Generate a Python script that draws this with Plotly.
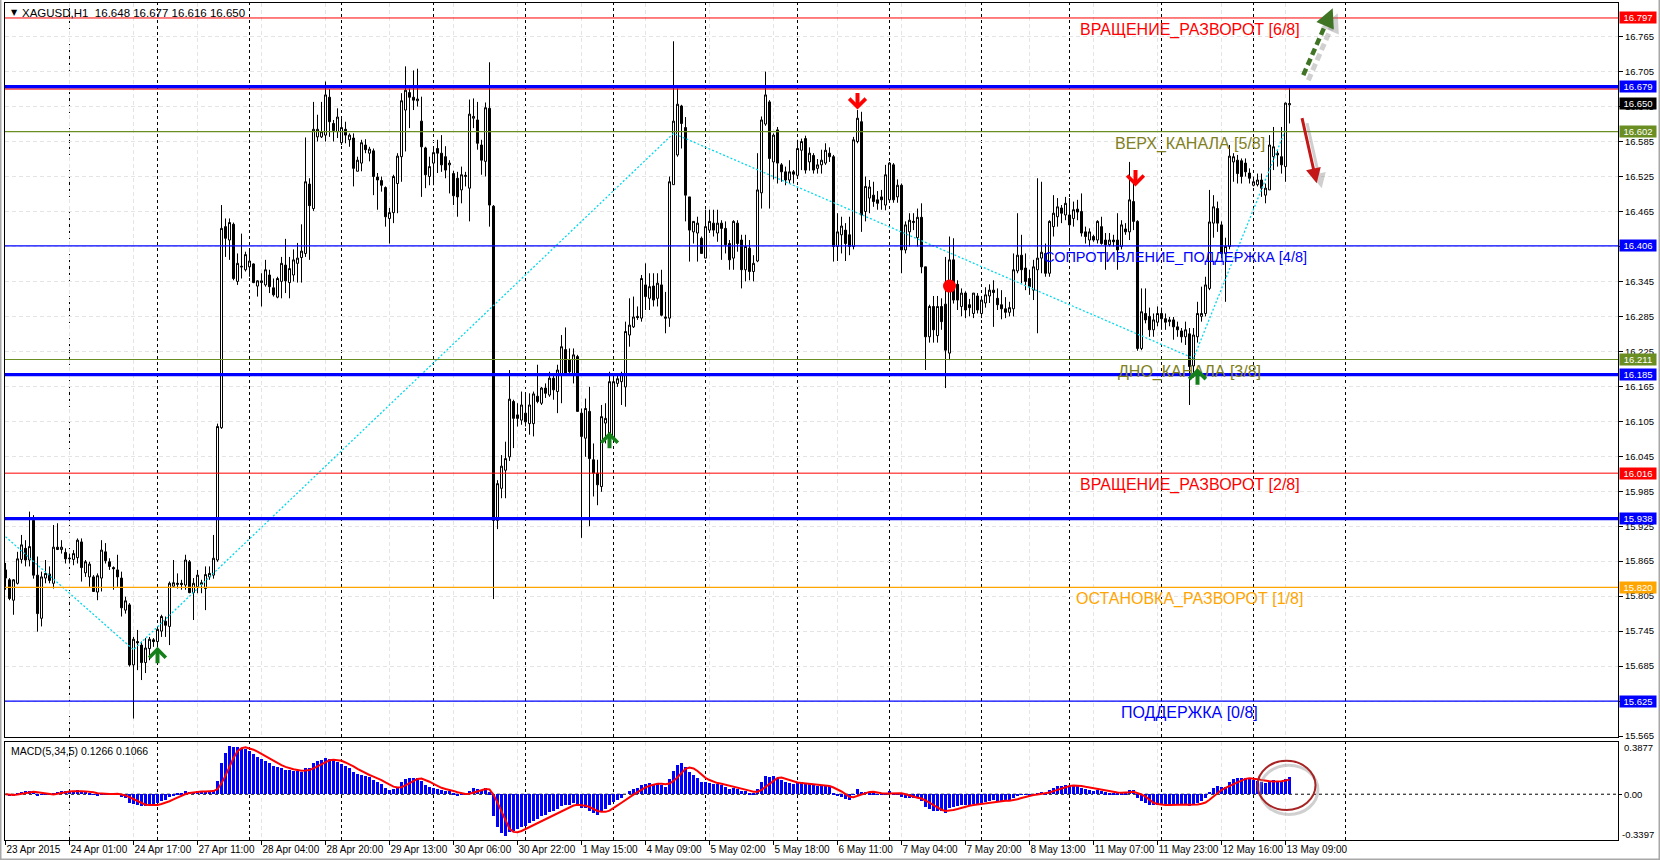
import plotly.graph_objects as go
import pandas as pd

# ---------------- DATA ----------------
opens = [
    15.850, 15.833, 15.798, 15.827, 15.868, 15.887, 15.867, 15.935, 15.841, 15.767,
    15.836, 15.843, 15.827, 15.889, 15.885, 15.880, 15.869, 15.868, 15.871, 15.898,
    15.845, 15.838, 15.838, 15.812, 15.836, 15.881, 15.864, 15.854, 15.850, 15.836,
    15.781, 15.790, 15.687, 15.727, 15.721, 15.691, 15.715, 15.730, 15.727, 15.745,
    15.762, 15.753, 15.822, 15.825, 15.827, 15.824, 15.864, 15.811, 15.821, 15.825,
    15.818, 15.838, 15.841, 15.867, 16.094, 16.439, 16.416, 16.443, 16.345, 16.371,
    16.365, 16.370, 16.375, 16.337, 16.343, 16.339, 16.356, 16.334, 16.318, 16.345,
    16.373, 16.343, 16.356, 16.376, 16.386, 16.393, 16.512, 16.470, 16.593, 16.593,
    16.596, 16.661, 16.616, 16.602, 16.583, 16.606, 16.588, 16.591, 16.534, 16.548,
    16.579, 16.565, 16.569, 16.524, 16.518, 16.506, 16.453, 16.463, 16.513, 16.559,
    16.639, 16.669, 16.661, 16.655, 16.620, 16.574, 16.525, 16.548, 16.573, 16.565,
    16.559, 16.545, 16.530, 16.522, 16.502, 16.525, 16.505, 16.625, 16.622, 16.579,
    16.551, 16.642, 16.474, 15.935, 15.990, 16.021, 16.044, 16.139, 16.116, 16.107,
    16.119, 16.101, 16.101, 16.148, 16.136, 16.162, 16.150, 16.179, 16.156, 16.187,
    16.228, 16.211, 16.187, 16.216, 16.119, 16.076, 16.122, 16.039, 16.016, 15.993,
    16.102, 16.073, 16.076, 16.170, 16.173, 16.164, 16.253, 16.267, 16.285, 16.282,
    16.339, 16.316, 16.337, 16.316, 16.339, 16.284, 16.282, 16.511, 16.562, 16.646,
    16.609, 16.490, 16.430, 16.428, 16.419, 16.385, 16.433, 16.445, 16.428, 16.445,
    16.436, 16.410, 16.385, 16.445, 16.416, 16.365, 16.402, 16.362, 16.380, 16.497,
    16.615, 16.653, 16.550, 16.605, 16.545, 16.533, 16.519, 16.533, 16.527, 16.570,
    16.590, 16.550, 16.561, 16.539, 16.545, 16.548, 16.565, 16.559, 16.405, 16.425,
    16.433, 16.425, 16.405, 16.585, 16.619, 16.465, 16.488, 16.493, 16.485, 16.490,
    16.476, 16.485, 16.545, 16.490, 16.510, 16.399, 16.430, 16.446, 16.420, 16.455,
    16.370, 16.250, 16.302, 16.252, 16.302, 16.306, 16.222, 16.382, 16.340, 16.302,
    16.325, 16.305, 16.290, 16.320, 16.290, 16.308, 16.320, 16.330, 16.316, 16.305,
    16.298, 16.292, 16.298, 16.363, 16.390, 16.368, 16.350, 16.330, 16.365, 16.385,
    16.393, 16.359, 16.439, 16.456, 16.471, 16.459, 16.459, 16.453, 16.469, 16.465,
    16.430, 16.416, 16.422, 16.416, 16.439, 16.416, 16.408, 16.416, 16.416, 16.405,
    16.435, 16.430, 16.482, 16.448, 16.230, 16.290, 16.285, 16.262, 16.275, 16.290,
    16.281, 16.276, 16.279, 16.267, 16.260, 16.250, 16.255, 16.200, 16.250, 16.285,
    16.290, 16.333, 16.445, 16.470, 16.442, 16.393, 16.405, 16.550, 16.553, 16.552,
    16.548, 16.531, 16.510, 16.511, 16.519, 16.493, 16.502, 16.559, 16.565, 16.559,
    16.542, 16.648,
]
highs = [
    15.862, 15.836, 15.834, 15.881, 15.910, 15.901, 15.950, 15.944, 15.873, 15.847,
    15.867, 15.856, 15.927, 15.930, 15.901, 15.887, 15.878, 15.884, 15.904, 15.904,
    15.867, 15.864, 15.841, 15.844, 15.901, 15.896, 15.870, 15.856, 15.876, 15.847,
    15.804, 15.793, 15.735, 15.747, 15.727, 15.733, 15.735, 15.733, 15.753, 15.773,
    15.770, 15.830, 15.867, 15.844, 15.833, 15.876, 15.867, 15.836, 15.850, 15.833,
    15.856, 15.856, 15.910, 16.101, 16.476, 16.453, 16.453, 16.446, 16.393, 16.427,
    16.396, 16.399, 16.376, 16.347, 16.359, 16.382, 16.365, 16.350, 16.353, 16.387,
    16.418, 16.387, 16.400, 16.411, 16.443, 16.592, 16.522, 16.653, 16.631, 16.653,
    16.688, 16.675, 16.622, 16.642, 16.625, 16.619, 16.599, 16.599, 16.559, 16.588,
    16.589, 16.576, 16.573, 16.531, 16.525, 16.508, 16.471, 16.528, 16.565, 16.668,
    16.714, 16.676, 16.707, 16.710, 16.662, 16.576, 16.559, 16.576, 16.588, 16.596,
    16.577, 16.553, 16.535, 16.533, 16.542, 16.533, 16.657, 16.659, 16.653, 16.588,
    16.652, 16.721, 16.476, 16.004, 16.047, 16.070, 16.193, 16.142, 16.136, 16.156,
    16.150, 16.153, 16.156, 16.202, 16.164, 16.170, 16.190, 16.187, 16.202, 16.253,
    16.266, 16.230, 16.230, 16.219, 16.127, 16.144, 16.164, 16.067, 16.039, 16.133,
    16.136, 16.190, 16.187, 16.184, 16.190, 16.276, 16.316, 16.319, 16.302, 16.356,
    16.376, 16.359, 16.359, 16.359, 16.365, 16.327, 16.525, 16.757, 16.676, 16.648,
    16.627, 16.490, 16.448, 16.456, 16.422, 16.468, 16.468, 16.468, 16.468, 16.450,
    16.448, 16.416, 16.450, 16.450, 16.425, 16.425, 16.416, 16.390, 16.565, 16.628,
    16.705, 16.656, 16.599, 16.610, 16.548, 16.542, 16.553, 16.536, 16.588, 16.590,
    16.595, 16.575, 16.565, 16.555, 16.571, 16.582, 16.575, 16.562, 16.462, 16.456,
    16.445, 16.456, 16.593, 16.639, 16.636, 16.525, 16.519, 16.516, 16.500, 16.502,
    16.545, 16.550, 16.548, 16.520, 16.513, 16.448, 16.462, 16.462, 16.470, 16.479,
    16.370, 16.305, 16.320, 16.320, 16.316, 16.387, 16.422, 16.419, 16.347, 16.333,
    16.328, 16.315, 16.325, 16.325, 16.320, 16.335, 16.340, 16.347, 16.333, 16.330,
    16.318, 16.310, 16.393, 16.462, 16.425, 16.393, 16.365, 16.382, 16.522, 16.516,
    16.410, 16.450, 16.493, 16.488, 16.476, 16.490, 16.488, 16.482, 16.485, 16.496,
    16.439, 16.436, 16.425, 16.450, 16.456, 16.428, 16.428, 16.425, 16.462, 16.450,
    16.445, 16.550, 16.513, 16.450, 16.333, 16.333, 16.300, 16.290, 16.302, 16.300,
    16.290, 16.284, 16.284, 16.276, 16.265, 16.276, 16.265, 16.265, 16.310, 16.336,
    16.353, 16.502, 16.493, 16.482, 16.448, 16.420, 16.579, 16.565, 16.562, 16.556,
    16.556, 16.539, 16.525, 16.530, 16.530, 16.513, 16.596, 16.610, 16.570, 16.610,
    16.652, 16.677,
]
lows = [
    15.816, 15.798, 15.773, 15.825, 15.861, 15.856, 15.856, 15.835, 15.744, 15.753,
    15.827, 15.827, 15.818, 15.884, 15.878, 15.861, 15.861, 15.858, 15.861, 15.830,
    15.838, 15.821, 15.813, 15.798, 15.813, 15.861, 15.850, 15.816, 15.821, 15.770,
    15.775, 15.684, 15.595, 15.678, 15.661, 15.673, 15.695, 15.718, 15.690, 15.735,
    15.735, 15.721, 15.821, 15.818, 15.816, 15.816, 15.810, 15.764, 15.810, 15.810,
    15.781, 15.833, 15.835, 15.864, 16.092, 16.387, 16.382, 16.347, 16.339, 16.350,
    16.362, 16.353, 16.342, 16.319, 16.302, 16.336, 16.325, 16.319, 16.316, 16.316,
    16.325, 16.316, 16.345, 16.343, 16.343, 16.387, 16.382, 16.466, 16.585, 16.591,
    16.585, 16.593, 16.585, 16.591, 16.579, 16.582, 16.576, 16.508, 16.534, 16.534,
    16.565, 16.551, 16.493, 16.468, 16.499, 16.439, 16.410, 16.445, 16.462, 16.516,
    16.568, 16.608, 16.639, 16.645, 16.490, 16.505, 16.510, 16.510, 16.531, 16.533,
    16.522, 16.496, 16.476, 16.456, 16.479, 16.508, 16.448, 16.608, 16.571, 16.528,
    16.525, 16.439, 15.800, 15.920, 15.973, 15.973, 16.037, 16.059, 16.096, 16.099,
    16.096, 16.082, 16.079, 16.136, 16.133, 16.145, 16.147, 16.142, 16.119, 16.136,
    16.184, 16.187, 16.170, 16.122, 15.905, 16.044, 15.925, 15.976, 15.961, 15.984,
    16.067, 16.073, 16.073, 16.164, 16.133, 16.130, 16.233, 16.265, 16.279, 16.276,
    16.296, 16.296, 16.302, 16.302, 16.285, 16.256, 16.267, 16.511, 16.559, 16.573,
    16.448, 16.379, 16.410, 16.379, 16.393, 16.385, 16.428, 16.422, 16.413, 16.382,
    16.393, 16.365, 16.365, 16.396, 16.333, 16.345, 16.347, 16.345, 16.378, 16.470,
    16.612, 16.470, 16.520, 16.513, 16.516, 16.510, 16.513, 16.513, 16.524, 16.536,
    16.530, 16.535, 16.530, 16.530, 16.530, 16.545, 16.550, 16.379, 16.380, 16.393,
    16.380, 16.390, 16.400, 16.582, 16.430, 16.448, 16.462, 16.473, 16.468, 16.468,
    16.467, 16.482, 16.480, 16.480, 16.359, 16.393, 16.405, 16.433, 16.405, 16.359,
    16.193, 16.240, 16.240, 16.240, 16.262, 16.162, 16.210, 16.307, 16.296, 16.285,
    16.282, 16.285, 16.282, 16.290, 16.282, 16.300, 16.308, 16.267, 16.296, 16.280,
    16.282, 16.285, 16.285, 16.359, 16.342, 16.330, 16.322, 16.313, 16.256, 16.359,
    16.353, 16.353, 16.422, 16.439, 16.445, 16.450, 16.410, 16.439, 16.450, 16.422,
    16.410, 16.405, 16.413, 16.410, 16.408, 16.365, 16.405, 16.405, 16.365, 16.400,
    16.425, 16.416, 16.433, 16.226, 16.227, 16.273, 16.250, 16.250, 16.268, 16.262,
    16.262, 16.268, 16.245, 16.250, 16.240, 16.236, 16.133, 16.180, 16.240, 16.276,
    16.285, 16.330, 16.420, 16.430, 16.385, 16.310, 16.400, 16.516, 16.513, 16.513,
    16.525, 16.513, 16.508, 16.508, 16.490, 16.479, 16.502, 16.536, 16.542, 16.530,
    16.516, 16.616,
]
closes = [
    15.836, 15.801, 15.833, 15.869, 15.893, 15.867, 15.890, 15.841, 15.775, 15.838,
    15.844, 15.832, 15.889, 15.885, 15.889, 15.869, 15.870, 15.878, 15.901, 15.854,
    15.864, 15.860, 15.813, 15.840, 15.884, 15.866, 15.856, 15.852, 15.838, 15.785,
    15.797, 15.687, 15.731, 15.725, 15.691, 15.716, 15.731, 15.727, 15.748, 15.770,
    15.755, 15.827, 15.828, 15.827, 15.825, 15.867, 15.811, 15.827, 15.841, 15.828,
    15.842, 15.844, 15.870, 16.096, 16.436, 16.419, 16.446, 16.350, 16.376, 16.370,
    16.391, 16.380, 16.343, 16.346, 16.346, 16.365, 16.336, 16.322, 16.350, 16.376,
    16.346, 16.367, 16.382, 16.385, 16.397, 16.516, 16.475, 16.606, 16.606, 16.602,
    16.665, 16.619, 16.604, 16.627, 16.609, 16.596, 16.596, 16.539, 16.553, 16.583,
    16.571, 16.572, 16.525, 16.519, 16.510, 16.456, 16.463, 16.525, 16.560, 16.655,
    16.673, 16.661, 16.656, 16.658, 16.576, 16.528, 16.542, 16.566, 16.565, 16.545,
    16.536, 16.548, 16.492, 16.490, 16.528, 16.527, 16.632, 16.628, 16.582, 16.553,
    16.643, 16.476, 15.935, 15.998, 16.028, 16.041, 16.143, 16.110, 16.110, 16.133,
    16.104, 16.133, 16.152, 16.139, 16.162, 16.153, 16.179, 16.159, 16.193, 16.233,
    16.187, 16.190, 16.219, 16.122, 16.079, 16.127, 16.041, 16.016, 15.996, 16.113,
    16.110, 16.173, 16.173, 16.178, 16.187, 16.259, 16.270, 16.284, 16.283, 16.350,
    16.319, 16.336, 16.313, 16.342, 16.287, 16.282, 16.516, 16.620, 16.649, 16.616,
    16.493, 16.433, 16.448, 16.445, 16.393, 16.439, 16.448, 16.433, 16.445, 16.436,
    16.408, 16.382, 16.448, 16.410, 16.365, 16.405, 16.362, 16.376, 16.502, 16.622,
    16.665, 16.556, 16.596, 16.548, 16.533, 16.519, 16.533, 16.529, 16.573, 16.585,
    16.536, 16.565, 16.536, 16.545, 16.553, 16.570, 16.559, 16.405, 16.430, 16.440,
    16.410, 16.405, 16.588, 16.625, 16.459, 16.508, 16.507, 16.482, 16.479, 16.485,
    16.528, 16.548, 16.485, 16.510, 16.399, 16.442, 16.450, 16.448, 16.455, 16.370,
    16.250, 16.302, 16.262, 16.302, 16.276, 16.227, 16.382, 16.313, 16.313, 16.325,
    16.296, 16.300, 16.325, 16.296, 16.313, 16.322, 16.330, 16.326, 16.305, 16.298,
    16.292, 16.300, 16.365, 16.390, 16.365, 16.345, 16.336, 16.370, 16.385, 16.395,
    16.359, 16.448, 16.462, 16.473, 16.462, 16.479, 16.442, 16.468, 16.464, 16.428,
    16.422, 16.430, 16.416, 16.448, 16.410, 16.408, 16.416, 16.413, 16.399, 16.442,
    16.430, 16.485, 16.448, 16.230, 16.293, 16.279, 16.262, 16.279, 16.290, 16.281,
    16.275, 16.279, 16.267, 16.262, 16.250, 16.262, 16.199, 16.253, 16.290, 16.290,
    16.339, 16.447, 16.473, 16.445, 16.393, 16.405, 16.560, 16.559, 16.530, 16.525,
    16.533, 16.522, 16.516, 16.519, 16.505, 16.505, 16.579, 16.576, 16.562, 16.545,
    16.651, 16.650,
]

tick_bars = [0, 16, 32, 48, 64, 80, 96, 112, 128, 144, 160, 176, 192, 208, 224,
             240, 256, 272, 288, 304, 320]
tick_labels = ["23 Apr 2015", "24 Apr 01:00", "24 Apr 17:00", "27 Apr 11:00",
               "28 Apr 04:00", "28 Apr 20:00", "29 Apr 13:00", "30 Apr 06:00",
               "30 Apr 22:00", "1 May 15:00", "4 May 09:00", "5 May 02:00",
               "5 May 18:00", "6 May 11:00", "7 May 04:00", "7 May 20:00",
               "8 May 13:00", "11 May 07:00", "11 May 23:00", "12 May 16:00",
               "13 May 09:00"]
day_separator_bars = [16, 38, 61, 84, 107, 130, 152, 175, 198, 221, 244, 266, 289, 312, 335]
price_ticks = [15.565, 15.625, 15.685, 15.745, 15.805, 15.865, 15.925, 15.985,
               16.045, 16.105, 16.165, 16.225, 16.285, 16.345, 16.405, 16.465,
               16.525, 16.585, 16.645, 16.705, 16.765]

level_prices = [16.797, 16.679, 16.675, 16.602, 16.406, 16.211, 16.185, 16.016, 15.938, 15.820, 15.625]
level_names = ["ВРАЩЕНИЕ_РАЗВОРОТ [6/8]", "ВЕРХ_КАНАЛА [5/8]", "СОПРОТИВЛЕНИЕ_ПОДДЕРЖКА [4/8]",
               "ДНО_КАНАЛА [3/8]", "ВРАЩЕНИЕ_РАЗВОРОТ [2/8]", "ОСТАНОВКА_РАЗВОРОТ [1/8]",
               "ПОДДЕРЖКА [0/8]"]
level_name_prices = [16.797, 16.602, 16.406, 16.211, 16.016, 15.820, 15.625]
box_prices = [16.797, 16.679, 16.650, 16.602, 16.406, 16.211, 16.185, 16.016, 15.938, 15.820, 15.625]

zigzag_bars = [0, 32, 167, 297, 320]
zigzag_prices = [15.907, 15.713, 16.599, 16.213, 16.605]

up_arrow_bars = [38, 151, 298]
up_arrow_prices = [15.718, 16.087, 16.196]
down_arrow_bars = [213, 282.5]
down_arrow_prices = [16.640, 16.508]
dot_bars = [236]
dot_prices = [16.337]

macd_header = "MACD(5,34,5) 0.1266 0.1066"
macd_max, macd_min = 0.3877, -0.3397

# ---------------- styles ----------------
RED, BLUE, OLIVE, ORANGE = "#FF0000", "#0000FF", "#6B8E23", "#FFA500"
level_colors = [RED, BLUE, RED, OLIVE, BLUE, OLIVE, BLUE, RED, BLUE, ORANGE, BLUE]
level_widths = [1, 3.4, 1, 1.2, 1.2, 1.2, 3.4, 1, 3.4, 1.2, 1.2]
name_colors = [RED, "#808020", BLUE, "#808020", RED, ORANGE, BLUE]
name_sizes = [16, 16, 14.5, 16, 16, 16, 16]
box_colors = [RED, BLUE, "#000000", OLIVE, BLUE, OLIVE, BLUE, RED, BLUE, ORANGE, BLUE]
FONT = "Liberation Sans, Arial, sans-serif"
TXT = 9.5
LBL = 10

bars = list(range(len(closes)))
cs = pd.Series(closes)
macd_main = cs.ewm(span=5, adjust=False).mean() - cs.ewm(span=34, adjust=False).mean()
macd_signal = macd_main.rolling(5, min_periods=1).mean()

XR = [-0.125, 403.125]
YR = [15.5633, 16.8227]

fig = go.Figure()

fig.add_trace(go.Scatter(x=zigzag_bars, y=zigzag_prices, mode="lines",
                         line=dict(color="#00D8EC", width=1.3, dash="2px,2px"),
                         hoverinfo="skip", showlegend=False, xaxis="x", yaxis="y"))
fig.add_trace(go.Candlestick(
    x=bars, open=opens, high=highs, low=lows, close=closes,
    increasing=dict(line=dict(color="black", width=1), fillcolor="white"),
    decreasing=dict(line=dict(color="black", width=1), fillcolor="black"),
    whiskerwidth=0, showlegend=False, hoverinfo="skip", xaxis="x", yaxis="y"))
fig.add_trace(go.Scatter(x=dot_bars, y=dot_prices, mode="markers",
                         marker=dict(color="#FF0000", size=13), showlegend=False,
                         hoverinfo="skip", xaxis="x", yaxis="y"))

fig.add_trace(go.Bar(x=bars, y=macd_main, marker=dict(color="#0000FF", line=dict(width=0)),
                     width=0.6, showlegend=False, hoverinfo="skip", xaxis="x2", yaxis="y2"))
fig.add_trace(go.Scatter(x=bars, y=macd_signal, mode="lines",
                         line=dict(color="#FF0000", width=2), showlegend=False,
                         hoverinfo="skip", xaxis="x2", yaxis="y2"))

shapes = []
for b in day_separator_bars:
    for xr, yr in (("x", "y domain"), ("x2", "y2 domain")):
        shapes.append(dict(type="line", xref=xr, yref=yr, x0=b, x1=b, y0=0, y1=1,
                           line=dict(color="black", width=1, dash="3px,3px"), layer="below"))
for p, c, w in zip(level_prices, level_colors, level_widths):
    shapes.append(dict(type="line", xref="x domain", yref="y", x0=0, x1=1, y0=p, y1=p,
                       line=dict(color=c, width=w), layer="above"))
shapes.append(dict(type="line", xref="x2 domain", yref="y2", x0=0, x1=1, y0=0, y1=0,
                   line=dict(color="black", width=1, dash="3px,3px"), layer="below"))
# hand-drawn circle in MACD window (with soft shadow)
shapes.append(dict(type="circle", xref="x2", yref="y2", x0=313.6, x1=328.1, y0=-0.15, y1=0.215,
                   line=dict(color="rgba(150,150,150,0.45)", width=3)))
shapes.append(dict(type="circle", xref="x2", yref="y2", x0=313.0, x1=327.5, y0=-0.117, y1=0.249,
                   line=dict(color="#A82323", width=2)))
# dashed green forecast arrow (shadow + body)
shapes.append(dict(type="line", xref="x", yref="y", x0=325.7, y0=16.690, x1=331.6, y1=16.783,
                   line=dict(color="rgba(120,120,120,0.35)", width=5, dash="7px,4px")))
shapes.append(dict(type="line", xref="x", yref="y", x0=324.45, y0=16.699, x1=330.4, y1=16.792,
                   line=dict(color="#3E7424", width=4.5, dash="7px,4px")))
# window frame
shapes.append(dict(type="rect", xref="paper", yref="paper", x0=-4.5 / 1613, x1=1654.5 / 1613,
                   y0=-19.5 / 837, y1=856.5 / 837, line=dict(color="#A8A8A8", width=2)))

ann = []
# header
ann.append(dict(xref="paper", yref="paper", x=4 / 1613, y=1 - 9.5 / 837, xanchor="left",
                yanchor="middle", text="▼", showarrow=False,
                font=dict(family="DejaVu Sans", size=8, color="black")))
ann.append(dict(xref="paper", yref="paper", x=15 / 1613, y=1 - 9.5 / 837, xanchor="left",
                yanchor="middle", text="XAGUSD,H1  16.648 16.677 16.616 16.650",
                showarrow=False, font=dict(family=FONT, size=11.5, color="black")))
ann.append(dict(xref="paper", yref="paper", x=4 / 1613, y=(840 - 750.5) / 837, xanchor="left",
                yanchor="middle", text=macd_header, showarrow=False,
                font=dict(family=FONT, size=10.5, color="black")))
# level names
for p, t, c, s in zip(level_name_prices, level_names, name_colors, name_sizes):
    xpos = 292.4 if t.startswith("СОПРОТ") else 296.0
    ann.append(dict(xref="x", yref="y", x=xpos, y=p, xanchor="center", yanchor="top",
                    text=t, showarrow=False, yshift=-1,
                    font=dict(family=FONT, size=s, color=c)))
# price boxes on the right scale
for p, c in zip(box_prices, box_colors):
    ann.append(dict(xref="paper", yref="y", x=1, y=p, xanchor="left", yanchor="middle",
                    xshift=1, text=f"{p:.3f}", showarrow=False, bgcolor=c, width=35,
                    height=10, borderpad=0.5,
                    font=dict(family=FONT, size=TXT, color="white")))
# MACD scale labels
ann.append(dict(xref="paper", yref="paper", x=1, y=(840 - 747) / 837, xanchor="left",
                yanchor="middle", xshift=4, text=f"{macd_max:.4f}", showarrow=False,
                font=dict(family=FONT, size=TXT, color="black")))
ann.append(dict(xref="paper", yref="paper", x=1, y=(840 - 834) / 837, xanchor="left",
                yanchor="middle", xshift=2, text=f"{macd_min:.4f}", showarrow=False,
                font=dict(family=FONT, size=TXT, color="black")))
# signal arrows
for b, p in zip(up_arrow_bars, up_arrow_prices):
    ann.append(dict(xref="x", yref="y", x=b, y=p, ax=0, ay=18, text="", showarrow=True,
                    arrowhead=4, arrowwidth=4, arrowsize=0.8, arrowcolor="#14801A",
                    standoff=0, startstandoff=0))
for b, p in zip(down_arrow_bars, down_arrow_prices):
    ann.append(dict(xref="x", yref="y", x=b, y=p, ax=0, ay=-18, text="", showarrow=True,
                    arrowhead=4, arrowwidth=4, arrowsize=0.8, arrowcolor="#FF0000",
                    standoff=0, startstandoff=0))
# green dashed arrow head (shadow + head)
ann.append(dict(xref="x", yref="y", x=333.05, y=16.805, ax=-5.6, ay=12.8, text="",
                showarrow=True, arrowhead=2, arrowwidth=4, arrowsize=0.95,
                arrowcolor="rgba(120,120,120,0.35)", standoff=0))
ann.append(dict(xref="x", yref="y", x=331.8, y=16.8136, ax=-5.6, ay=12.8, text="",
                showarrow=True, arrowhead=2, arrowwidth=4, arrowsize=0.95,
                arrowcolor="#3E7424", standoff=0))
# red arrow (shadow + arrow)
ann.append(dict(xref="x", yref="y", x=329.05, y=16.505, ax=-15, ay=-66.6, text="",
                showarrow=True, arrowhead=2, arrowwidth=3, arrowsize=1.0,
                arrowcolor="rgba(120,120,120,0.35)", standoff=0))
ann.append(dict(xref="x", yref="y", x=327.8, y=16.5134, ax=-15, ay=-66.6, text="",
                showarrow=True, arrowhead=2, arrowwidth=3, arrowsize=1.0,
                arrowcolor="#C41818", standoff=0))

GRID = "#E4E4E4"
fig.update_layout(
    width=1660, height=860,
    margin=dict(l=5, r=42, t=3, b=20, autoexpand=False),
    paper_bgcolor="white", plot_bgcolor="white",
    font=dict(family=FONT, size=TXT, color="black"),
    showlegend=False, boxgap=0.5, boxgroupgap=0, bargap=0,
    xaxis=dict(domain=[0, 1], range=XR, anchor="y", tickvals=tick_bars, showticklabels=False,
               ticks="", showgrid=True, gridcolor=GRID, griddash="4px,3px", zeroline=False,
               showline=True, linecolor="black", linewidth=1, mirror=True, automargin=False,
               rangeslider=dict(visible=False)),
    yaxis=dict(domain=[103 / 837, 1], range=YR, side="right", tickvals=price_ticks,
               ticktext=[f"{v:.3f}" for v in price_ticks], ticks="outside", ticklen=4,
               tickcolor="black", tickfont=dict(size=TXT), showgrid=True, gridcolor=GRID,
               griddash="4px,3px", zeroline=False, showline=True, linecolor="black",
               linewidth=1, mirror=True, automargin=False),
    xaxis2=dict(domain=[0, 1], range=XR, anchor="y2", matches="x", tickvals=tick_bars,
                ticktext=tick_labels, ticklabelposition="outside right", ticks="outside",
                tickangle=0, ticklen=4, tickcolor="black", tickfont=dict(size=LBL),
                showgrid=True, gridcolor=GRID, griddash="4px,3px", zeroline=False,
                showline=True, linecolor="black", linewidth=1, mirror=True, automargin=False),
    yaxis2=dict(domain=[0, 98 / 837], range=[macd_min, macd_max], side="right",
                tickvals=[0], ticktext=["0.00"], ticks="outside", ticklen=3,
                tickcolor="black", tickfont=dict(size=TXT), showgrid=False, zeroline=False,
                showline=True, linecolor="black", linewidth=1, mirror=True, automargin=False),
    shapes=shapes, annotations=ann,
)

fig.write_html("out.html", config={"displayModeBar": False},
               post_script="document.body.style.margin='0px';document.body.style.overflow='hidden';")
